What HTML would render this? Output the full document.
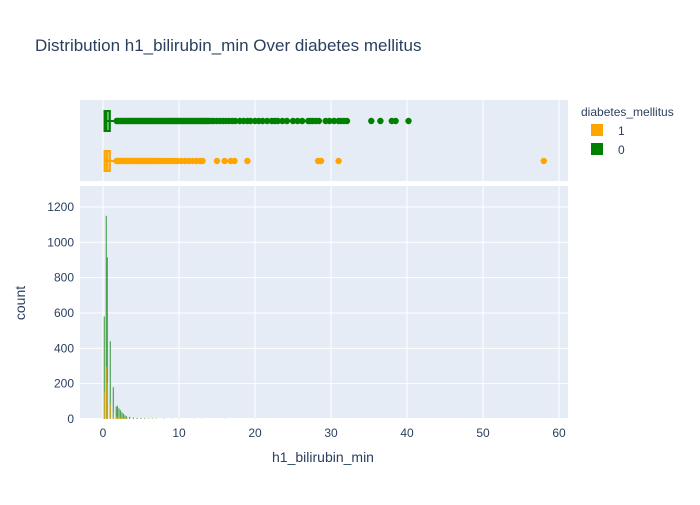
<!DOCTYPE html>
<html><head><meta charset="utf-8"><style>
body{margin:0;background:#fff;}
svg text{font-family:"Liberation Sans",sans-serif;fill:#2a3f5f;}
</style></head><body>
<svg id="chart" width="700" height="500">
<rect width="700" height="500" fill="#fff"/>
<text x="35" y="51" font-size="17">Distribution h1_bilirubin_min Over diabetes mellitus</text>
<rect x="80" y="100" width="488" height="81" fill="#e5ecf6"/>
<rect x="80" y="186" width="488" height="233" fill="#e5ecf6"/>
<g id="grid"></g>
<g id="marks"></g>
<g id="axes"></g>
<text x="323" y="462" font-size="14" text-anchor="middle">h1_bilirubin_min</text>
<text x="0" y="0" font-size="14" text-anchor="middle" transform="translate(25,303) rotate(-90)">count</text>
<g>
<text x="581" y="116" font-size="12">diabetes_mellitus</text>
<g><rect x="591" y="124" width="12" height="12" fill="#ffa500"/><text x="618" y="135" font-size="12">1</text></g>
<g><rect x="591" y="143" width="12" height="12" fill="#008000"/><text x="618" y="154" font-size="12">0</text></g>
</g>
</svg>
<script>
const binCenters=[0.17,0.43,0.57,0.96,1.36,1.75,1.9,2.1,2.3,2.5,2.7,2.9,3.1,3.5,4,4.5,5,5.5,6,6.5,7,8,9,10,12,13,16,20];
const countsGreen=[580,1150,915,440,180,70,75,60,50,38,30,20,15,12,8,6,5,4,3,3,2,2,1,1,1,1,1,1];
const countsOrange=[150,295,205,90,40,15,12,10,8,6,5,4,3,2,2,1,1,1,1,1,1,1,1,1,1,0,0,0];
const yTicks=[0,200,400,600,800,1000,1200];
const xTicks=[0,10,20,30,40,50,60];
const boxGreen=[0.2,0.4,0.9,0.1,1.7];
const boxOrange=[0.2,0.5,0.9,0.1,1.8];
const outGreen=[1.8,2,2.2,2.4,2.6,2.8,3,3.2,3.4,3.6,3.8,4,4.2,4.4,4.6,4.8,5,5.2,5.4,5.6,5.8,6,6.2,6.4,6.6,6.8,7,7.2,7.4,7.6,7.8,8,8.2,8.4,8.6,8.8,9,9.2,9.4,9.6,9.8,10,10.2,10.4,10.6,10.8,11,11.2,11.4,11.6,11.8,12,12.2,12.4,12.6,12.8,13,13.2,13.4,13.6,13.8,14,14.3,14.6,15,15.4,15.8,16.2,16.6,17,17.4,18,18.5,19,19.4,20,20.5,21,21.6,22.2,22.6,23,23.6,24.2,25,25.6,26.2,27,27.3,27.6,28,28.4,29.3,29.8,30.4,31,31.3,31.7,32.1,35.3,36.5,38,38.5,40.2];
const outOrange=[1.8,2,2.2,2.4,2.6,2.8,3,3.2,3.4,3.6,3.8,4,4.2,4.4,4.6,4.8,5,5.2,5.4,5.6,5.8,6,6.2,6.4,6.6,6.8,7,7.3,7.6,8,8.3,8.6,9,9.4,9.8,10.3,10.8,11.3,11.8,12.3,12.8,13.1,15,16,16.8,17.3,19,28.3,28.7,31,58];
const NS='http://www.w3.org/2000/svg';
const X=v=>103+v*7.6, Y=v=>419-v*0.1767;
function mk(t,a,p){const e=document.createElementNS(NS,t);for(const k in a)e.setAttribute(k,a[k]);p.appendChild(e);return e;}
const grid=document.getElementById('grid'),marks=document.getElementById('marks'),axes=document.getElementById('axes');
xTicks.forEach(t=>{
 const l1=mk('line',{x1:X(t),x2:X(t),y1:100,y2:181,stroke:'#fff','stroke-width':1},grid);
 
 
 const l2=mk('line',{x1:X(t),x2:X(t),y1:186,y2:419,stroke:'#fff','stroke-width':1},grid);
 
 
 const tx=mk('text',{x:X(t),y:437,'font-size':12,'text-anchor':'middle'},axes);tx.textContent=t;
 
 
});
yTicks.forEach(t=>{
 const l=mk('line',{x1:80,x2:568,y1:Y(t),y2:Y(t),stroke:'#fff','stroke-width':t==0?2:1},grid);
 
 
 const tx=mk('text',{x:74,y:Y(t)+4,'font-size':12,'text-anchor':'end'},axes);tx.textContent=t;
 
 
});
function bars(c,col,name){binCenters.forEach((b,i)=>{if(!c[i])return;
 const r=mk('rect',{x:X(b)-0.6,width:1.2,y:Y(c[i]),height:Y(0)-Y(c[i]),fill:col,opacity:0.65},marks);
 
 });}
bars(countsGreen,'#008000','bar-diabetes-0');
bars(countsOrange,'#ffa500','bar-diabetes-1');
function box(s,out,cy,col,name){
 const g=mk('g',{},marks);
 
 
 out.forEach(v=>mk('circle',{cx:X(v),cy:cy,r:3.2,fill:col},g));
 mk('line',{x1:X(s[3]),x2:X(s[4]),y1:cy,y2:cy,stroke:col,'stroke-width':2},g);
 mk('rect',{x:X(s[0]),y:cy-10,width:X(s[2])-X(s[0]),height:20,fill:col,'fill-opacity':0.5,stroke:col,'stroke-width':2},g);
 mk('line',{x1:X(s[1]),x2:X(s[1]),y1:cy-10,y2:cy+10,stroke:col,'stroke-width':2},g);
}
box(boxGreen,outGreen,121,'#008000','box-diabetes-0');
box(boxOrange,outOrange,161,'#ffa500','box-diabetes-1');
</script>
</body></html>
